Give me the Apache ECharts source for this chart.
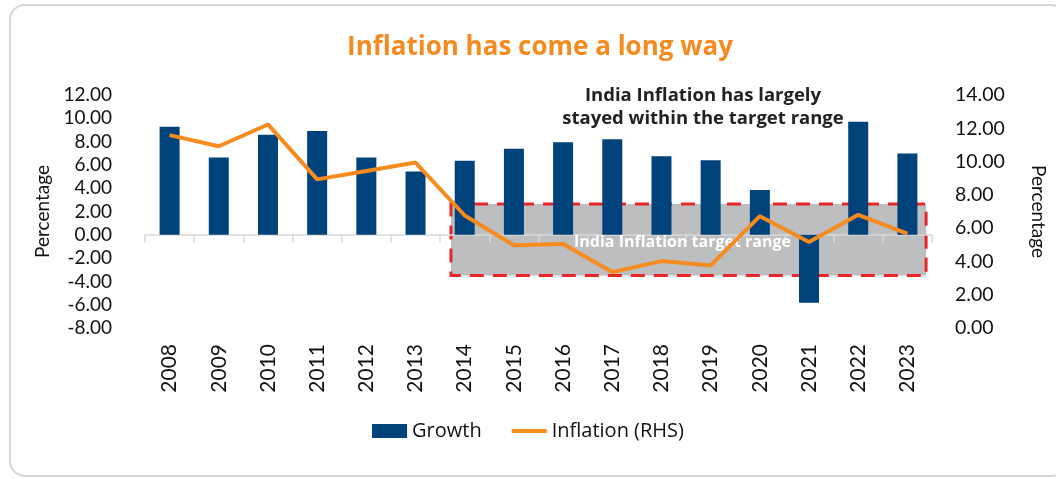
<!DOCTYPE html>
<html>
<head>
<meta charset="utf-8">
<style>
  html, body { margin: 0; padding: 0; background: #fff; }
  .card {
    position: absolute; left: 9px; top: 4px;
    width: 1054px; height: 469px;
    border: 2px solid #d6d6d6; border-radius: 16px;
  }
  #chart { position: absolute; left: 0; top: 0; width: 1056px; height: 479px; }
</style>
<script src="https://cdn.jsdelivr.net/npm/echarts@6/dist/echarts.min.js"></script>
</head>
<body>
<div class="card"></div>
<div id="chart"></div>
<script>
const years = ['2008', '2009', '2010', '2011', '2012', '2013', '2014', '2015', '2016', '2017', '2018', '2019', '2020', '2021', '2022', '2023']
const growth = [9.27, 6.64, 8.58, 8.9, 6.64, 5.43, 6.35, 7.38, 7.95, 8.2, 6.75, 6.4, 3.84, -5.84, 9.7, 6.98]
const inflation = [11.59, 10.92, 12.23, 8.93, 9.43, 9.94, 6.76, 4.97, 5.05, 3.36, 4.02, 3.76, 6.72, 5.17, 6.8, 5.67]

// shaded target band, in category index units (x) and right-axis units (y)
const targetRangeX = [5.72, 15.38]
const targetRangeY = [3.15, 7.45]

const chart = echarts.init(document.getElementById('chart'))

const axisFont = { fontFamily: 'Lato', fontSize: 19, color: '#111' }

const option = {
  animation: false,
  title: [
    {
      text: 'Inflation has come a long way',
      left: 535,
      top: 30,
      textAlign: 'center',
      textStyle: { fontFamily: 'Open Sans', fontWeight: 'bold', fontSize: 26, color: '#f58a1f' }
    },
    {
      text: 'India Inflation has largely\nstayed within the target range',
      left: 698,
      top: 79,
      textAlign: 'center',
      textStyle: { fontFamily: 'Open Sans', fontWeight: 'bold', fontSize: 18.5, lineHeight: 23, color: '#222' }
    }
  ],
  legend: {
    bottom: 33,
    left: 'center',
    itemWidth: 35,
    itemHeight: 14,
    itemGap: 30,
    textStyle: { fontFamily: 'Open Sans', fontSize: 20, color: '#111' },
    data: [
      { name: 'Growth', icon: 'rect' },
      { name: 'Inflation (RHS)', icon: 'path://M0,0 L36,0 L36,4 L0,4 Z' }
    ]
  },
  grid: { left: 145, right: 119, top: 95, bottom: 151 },
  xAxis: [
    {
      type: 'category',
      data: years,
      position: 'bottom',
      axisLine: { show: false, onZero: false },
      axisTick: { show: false },
      axisLabel: Object.assign({ rotate: 90, margin: 16, interval: 0 }, axisFont, { fontSize: 21 })
    },
    {
      type: 'category',
      data: years,
      position: 'bottom',
      axisLine: { show: true, onZero: true, onZeroAxisIndex: 0, lineStyle: { color: '#d9d9d9', width: 1.5 } },
      axisTick: { show: true, length: 8, lineStyle: { color: '#d9d9d9', width: 1.5 } },
      axisLabel: { show: false },
      z: 1
    },
    { type: 'value', min: -0.5, max: 15.5, show: false }
  ],
  yAxis: [
    {
      type: 'value',
      min: -8, max: 12, interval: 2,
      name: 'Percentage',
      nameLocation: 'middle',
      nameRotate: 90,
      nameGap: 92,
      nameTextStyle: axisFont,
      splitLine: { show: false },
      axisLine: { show: false, onZero: false },
      axisTick: { show: false },
      axisLabel: Object.assign({ formatter: v => v.toFixed(2), margin: 33 }, axisFont)
    },
    {
      type: 'value',
      min: 0, max: 14, interval: 2,
      name: 'Percentage',
      nameLocation: 'middle',
      nameRotate: -90,
      nameGap: 97,
      nameTextStyle: axisFont,
      splitLine: { show: false },
      axisLine: { show: false, onZero: false },
      axisTick: { show: false },
      axisLabel: Object.assign({ formatter: v => v.toFixed(2), margin: 23 }, axisFont, { fontSize: 19.5 })
    }
  ],
  series: [
    {
      name: 'target',
      type: 'line',
      xAxisIndex: 2,
      yAxisIndex: 1,
      data: [],
      z: 1,
      markArea: {
        silent: true,
        itemStyle: {
          color: '#bcbec0',
          borderColor: '#e8262a',
          borderWidth: 3,
          borderType: [14, 9]
        },
        label: {
          show: true,
          position: 'inside',
          offset: [-6, 3],
          color: '#fff',
          fontFamily: 'Open Sans',
          fontWeight: 'bold',
          fontSize: 16
        },
        data: [[
          { name: 'India Inflation target range', coord: [targetRangeX[0], targetRangeY[1]] },
          { coord: [targetRangeX[1], targetRangeY[0]] }
        ]]
      }
    },
    {
      name: 'Growth',
      type: 'bar',
      xAxisIndex: 0,
      yAxisIndex: 0,
      barWidth: 20,
      z: 3,
      itemStyle: { color: '#00427a' },
      data: growth
    },
    {
      name: 'Inflation (RHS)',
      type: 'line',
      xAxisIndex: 0,
      yAxisIndex: 1,
      symbol: 'none',
      z: 4,
      lineStyle: { color: '#f68b1f', width: 4 },
      itemStyle: { color: '#f68b1f' },
      data: inflation
    }
  ]
}

chart.setOption(option)
</script>
</body>
</html>
